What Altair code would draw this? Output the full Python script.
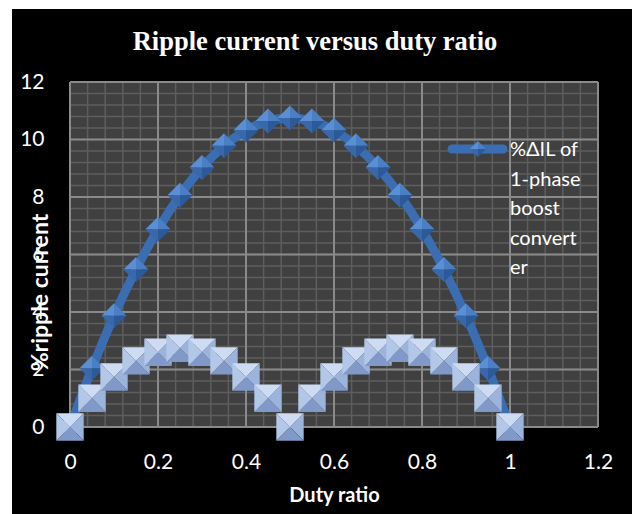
import altair as alt
import pandas as pd

# ---------------- data ----------------
duty = [0.0, 0.05, 0.10, 0.15, 0.20, 0.25, 0.30, 0.35, 0.40, 0.45, 0.50,
        0.55, 0.60, 0.65, 0.70, 0.75, 0.80, 0.85, 0.90, 0.95, 1.0]
ripple_1phase = [0.0, 2.04, 3.87, 5.48, 6.88, 8.06, 9.03, 9.78, 10.32, 10.64, 10.75,
                 10.64, 10.32, 9.78, 9.03, 8.06, 6.88, 5.48, 3.87, 2.04, 0.0]
ripple_2phase = [0.0, 1.0, 1.74, 2.3, 2.6, 2.74, 2.6, 2.3, 1.74, 1.0, 0.0,
                 1.0, 1.74, 2.3, 2.6, 2.74, 2.6, 2.3, 1.74, 1.0, 0.0]
series_label = ["%ΔIL of", "1-phase", "boost", "convert", "er"]
x_ticks = [0, 0.2, 0.4, 0.6, 0.8, 1.0, 1.2]
y_ticks = [0, 2, 4, 6, 8, 10, 12]
x_minor = [round(i * 0.04, 2) for i in range(31)]
y_minor = [round(i * 0.4, 1) for i in range(31)]

W, H = 528, 345
FONT = "Lato"

df1 = pd.DataFrame({"d": duty, "v": ripple_1phase})
df2 = pd.DataFrame({"d": duty, "v": ripple_2phase})

dia_faces = ["tl", "tr", "br", "bl"]
dia_paths = ["M-1,0L0,-1L0,0Z", "M0,-1L1,0L0,0Z", "M1,0L0,1L0,0Z", "M0,1L-1,0L0,0Z"]
dia_cols = ["#5a8fd3", "#4a7fc4", "#2c5a98", "#3968aa"]
sq_faces = ["t", "r", "b", "l"]
sq_paths = ["M-1,-1L1,-1L0,0Z", "M1,-1L1,1L0,0Z", "M1,1L-1,1L0,0Z", "M-1,1L-1,-1L0,0Z"]
sq_cols = ["#cddcf2", "#9cb3dc", "#8099c8", "#b3c7e8"]

df1f = pd.DataFrame([{"d": d, "v": v, "f": f} for d, v in zip(duty, ripple_1phase) for f in dia_faces])
df2f = pd.DataFrame([{"d": d, "v": v, "f": f} for d, v in zip(duty, ripple_2phase) for f in sq_faces])

xscale = alt.Scale(domain=[0, 1.2], nice=False)
yscale = alt.Scale(domain=[0, 12], nice=False)

xax = alt.Axis(values=x_ticks, format="~g", grid=False, domain=False, ticks=False, zindex=2,
               labelColor="white", labelFont=FONT, labelFontSize=21, labelPadding=24,
               labelFlush=False, labelOverlap=False,
               title="Duty ratio", titleFont=FONT, titleFontWeight="bold", titleFontSize=20,
               titleColor="white", titleY=68, titleBaseline="middle")
yax = alt.Axis(values=y_ticks, format="~g", grid=False, domain=False, ticks=False, zindex=2,
               labelColor="white", labelFont=FONT, labelFontSize=21, labelPadding=26,
               labelFlush=False, labelOverlap=False,
               title="%ripple current", titleFont=FONT, titleFontWeight="bold", titleFontSize=23,
               titleColor="white", titleX=-30, titleY=210, titleAngle=270,
               titleAlign="center", titleBaseline="middle")

X = lambda: alt.X("d:Q", scale=xscale, axis=xax)
Y = lambda: alt.Y("v:Q", scale=yscale, axis=yax)

one = alt.Data(values=[{}])

bg = alt.Chart(one).mark_rect(color="black").encode(
    x=alt.value(-58), x2=alt.value(562), y=alt.value(-73), y2=alt.value(440))
plotbg = alt.Chart(one).mark_rect(color="#404040").encode(
    x=alt.value(0), x2=alt.value(W), y=alt.value(0), y2=alt.value(H))

vminor = alt.Chart(pd.DataFrame({"d": x_minor})).mark_rule(color="#5e5e5e", strokeWidth=1.5).encode(
    x=alt.X("d:Q", scale=xscale, axis=xax))
hminor = alt.Chart(pd.DataFrame({"v": y_minor})).mark_rule(color="#5e5e5e", strokeWidth=1.5).encode(
    y=alt.Y("v:Q", scale=yscale, axis=yax))
vmajor = alt.Chart(pd.DataFrame({"d": x_ticks})).mark_rule(color="#8a8a8a", strokeWidth=2).encode(
    x=alt.X("d:Q", scale=xscale, axis=xax))
hmajor = alt.Chart(pd.DataFrame({"v": y_ticks})).mark_rule(color="#8a8a8a", strokeWidth=2).encode(
    y=alt.Y("v:Q", scale=yscale, axis=yax))

line1 = alt.Chart(df1).mark_line(color="#3b6db2", strokeWidth=9, interpolate="monotone").encode(
    x=X(), y=Y())

dia = alt.Chart(df1f).mark_point(filled=True, opacity=1, size=625).encode(
    x=X(), y=Y(),
    shape=alt.Shape("f:N", scale=alt.Scale(domain=dia_faces, range=dia_paths), legend=None),
    color=alt.Color("f:N", scale=alt.Scale(domain=dia_faces, range=dia_cols), legend=None))

sq = alt.Chart(df2f).mark_point(filled=True, opacity=1, size=750).encode(
    x=X(), y=Y(),
    shape=alt.Shape("f:N", scale=alt.Scale(domain=sq_faces, range=sq_paths), legend=None),
    fill=alt.Fill("f:N", scale=alt.Scale(domain=sq_faces, range=sq_cols), legend=None))

# legend (only the first series is visible in the reference)
leg_line = alt.Chart(one).mark_rule(color="#3b6db2", strokeWidth=9, strokeCap="round").encode(
    x=alt.value(382), x2=alt.value(433), y=alt.value(67))
leg_dia = alt.Chart(pd.DataFrame({"f": dia_faces})).mark_point(filled=True, opacity=1, size=256).encode(
    x=alt.value(408), y=alt.value(67),
    shape=alt.Shape("f:N", scale=alt.Scale(domain=dia_faces, range=dia_paths), legend=None),
    color=alt.Color("f:N", scale=alt.Scale(domain=dia_faces, range=dia_cols), legend=None))
leg_text = alt.Chart(one).mark_text(align="left", baseline="top", font=FONT, fontSize=20,
                                    color="white", lineHeight=29.5).encode(
    x=alt.value(440), y=alt.value(58), text=alt.value(series_label))

chart = alt.layer(
    bg, plotbg, vminor, hminor, vmajor, hmajor, line1, dia, sq, leg_line, leg_dia, leg_text
).resolve_scale(shape="independent", color="independent", fill="independent").properties(
    width=W, height=H,
    autosize=alt.AutoSizeParams(type="none"),
    padding={"left": 70, "top": 82, "right": 40, "bottom": 87},
    background="white",
    title=alt.TitleParams("Ripple current versus duty ratio", font="Liberation Serif",
                          fontSize=26.5, fontWeight="bold", color="white", anchor="middle",
                          frame="group", dx=-19, offset=-67, baseline="alphabetic", zindex=2),
).configure_view(stroke=None)

chart.save("out.html", embed_options={"renderer": "svg", "actions": False})
